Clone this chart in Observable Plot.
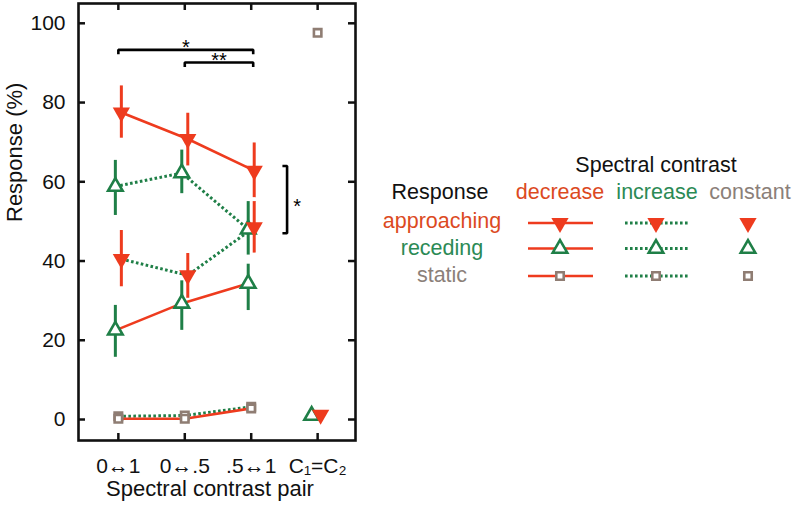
<!DOCTYPE html>
<html><head><meta charset="utf-8">
<script src="https://cdn.jsdelivr.net/npm/d3@7"></script>
<script src="https://cdn.jsdelivr.net/npm/@observablehq/plot@0.6"></script>
<style>
body{margin:0;background:#fff}
svg{font-family:"Liberation Sans",Arial,Helvetica,sans-serif}
</style>
</head><body><div id="chart"></div>
<script>
// ---------- data ----------
const pairLabels = ["0↔1", "0↔.5", ".5↔1", "C₁=C₂"];
const pairPos = [1, 2, 3];
const xTicks = [1, 2, 3, 4];
const yTicks = [0, 20, 40, 60, 80, 100];

// approaching response, spectral contrast decrease (solid)
const apprDecMean = [77.5, 70.8, 62.8];
const apprDecLo   = [71.0, 64.0, 56.0];
const apprDecHi   = [84.2, 77.3, 69.8];
// approaching response, spectral contrast increase (dotted)
const apprIncMean = [40.5, 36.4, 48.5];
const apprIncLo   = [33.5, 30.6, 42.0];
const apprIncHi   = [47.7, 41.9, 55.0];
// receding response, decrease (solid)
const recDecMean = [22.5, 29.3, 34.3];
const recDecLo   = [15.7, 22.5, 27.5];
const recDecHi   = [28.8, 35.0, 39.2];
// receding response, increase (dotted)
const recIncMean = [58.8, 62.2, 48.0];
const recIncLo   = [51.5, 57.0, 41.5];
const recIncHi   = [65.4, 68.0, 55.0];
// static response
const statDecMean = [0.2, 0.2, 2.8];
const statDecLo   = [0.2, 0.2, 1.8];
const statDecHi   = [0.2, 0.2, 3.8];
const statIncMean = [0.8, 1.0, 3.2];
const statIncLo   = [0.8, 1.0, 2.2];
const statIncHi   = [0.8, 1.0, 4.2];
// constant contrast (C1 = C2)
const constX = 4;
const constAppr = 1.2;
const constRec = 1.0;
const constStat = 97.6;

// significance annotations
const sigBrackets = [
  {x1: 1, x2: 3.03, y: 93.3, drop: 1.1, label: "*"},
  {x1: 2, x2: 3.03, y: 90.1, drop: 1.1, label: "**"}
];
const sigVertical = {x: 3.54, y1: 64, y2: 47, tick: 0.07, label: "*"};

// legend content
const legendTitle = "Spectral contrast";
const legendRowHeader = "Response";
const legendCols = ["decrease", "increase", "constant"];
const legendRows = ["approaching", "receding", "static"];

// ---------- styles ----------
const RED = "#ee3b1e", GREEN = "#1f7f47", GRAY = "#8f7d73";
const RED_T = "#dc4a1f", GREEN_T = "#2b8a55", GRAY_T = "#8b8079";
const DASH = "2.6,2.4";
const triDown = {
  draw(ctx, size) {
    const y = -Math.sqrt(size / (Math.sqrt(3) * 3));
    ctx.moveTo(0, -y * 2);
    ctx.lineTo(-Math.sqrt(3) * y, y);
    ctx.lineTo(Math.sqrt(3) * y, y);
    ctx.closePath();
  }
};
const markerStyle = {
  approaching: {symbol: triDown, r: 6.4, fill: RED, stroke: "none", strokeWidth: 0, color: RED, dx: 3},
  receding: {symbol: "triangle", r: 5.4, fill: "white", stroke: GREEN, strokeWidth: 2.6, color: GREEN, dx: -3},
  static: {symbol: "square", r: 4.2, fill: "white", stroke: GRAY, strokeWidth: 2.6, color: GRAY, dx: 0}
};
const lineStyle = {
  decrease: {stroke: RED, strokeWidth: 2.6, strokeDasharray: null, strokeLinecap: "butt"},
  increase: {stroke: GREEN, strokeWidth: 3, strokeDasharray: DASH, strokeLinecap: "butt"}
};

function rows(mean, lo, hi) {
  return pairPos.map((x, i) => ({x, mean: mean[i], lo: lo[i], hi: hi[i]}));
}
const series = [
  {resp: "static", con: "increase", data: rows(statIncMean, statIncLo, statIncHi)},
  {resp: "static", con: "decrease", data: rows(statDecMean, statDecLo, statDecHi)},
  {resp: "receding", con: "decrease", data: rows(recDecMean, recDecLo, recDecHi)},
  {resp: "receding", con: "increase", data: rows(recIncMean, recIncLo, recIncHi)},
  {resp: "approaching", con: "increase", data: rows(apprIncMean, apprIncLo, apprIncHi)},
  {resp: "approaching", con: "decrease", data: rows(apprDecMean, apprDecLo, apprDecHi)}
];

const lineMarks = series.map(s => Plot.line(s.data, {
  x: "x", y: "mean", dx: markerStyle[s.resp].dx, ...lineStyle[s.con]
}));
const errMarks = series.map(s => Plot.ruleX(s.data, {
  x: "x", y1: "lo", y2: "hi", dx: markerStyle[s.resp].dx,
  stroke: markerStyle[s.resp].color, strokeWidth: 3
}));
const dotOpts = m => ({symbol: m.symbol, r: m.r, fill: m.fill, stroke: m.stroke, strokeWidth: m.strokeWidth});
const dotMarks = series.map(s => {
  const m = markerStyle[s.resp];
  return Plot.dot(s.data, {x: "x", y: "mean", dx: m.dx, ...dotOpts(m)});
});
const constMarks = [
  Plot.dot([{x: constX, y: constRec}], {x: "x", y: "y", dx: -6, ...dotOpts(markerStyle.receding)}),
  Plot.dot([{x: constX, y: constAppr}], {x: "x", y: "y", dx: 3, ...dotOpts(markerStyle.approaching)}),
  Plot.dot([{x: constX, y: constStat}], {x: "x", y: "y", ...dotOpts(markerStyle.static)})
];

const bracketLines = sigBrackets.map(b => Plot.line(
  [{x: b.x1, y: b.y - b.drop}, {x: b.x1, y: b.y}, {x: b.x2, y: b.y}, {x: b.x2, y: b.y - b.drop}],
  {x: "x", y: "y", stroke: "black", strokeWidth: 2.6, strokeLinecap: "butt", strokeLinejoin: "miter"}));
const bracketText = Plot.text(sigBrackets, {
  x: b => (b.x1 + b.x2) / 2, y: "y", text: "label", dy: 4, fontSize: 20, lineAnchor: "bottom", fill: "black"
});
const vLine = Plot.line(
  [{x: sigVertical.x - sigVertical.tick, y: sigVertical.y1}, {x: sigVertical.x, y: sigVertical.y1},
   {x: sigVertical.x, y: sigVertical.y2}, {x: sigVertical.x - sigVertical.tick, y: sigVertical.y2}],
  {x: "x", y: "y", stroke: "black", strokeWidth: 2.6, strokeLinecap: "butt", strokeLinejoin: "miter"});
const vText = Plot.text([sigVertical], {
  x: d => d.x + 0.15, y: d => (d.y1 + d.y2) / 2, text: "label", fontSize: 20, dy: 7, fill: "black"
});

// layout
const W = 796, H = 510, ML = 78, MR = 441, MT = 3, MB = 70;
const FW = W - ML - MR, FH = H - MT - MB, TL = 7;
// inward frame ticks (short rules, trimmed with pixel insets)
const TICK = {stroke: "#111", strokeWidth: 2.5};
const tickMarks = [
  Plot.ruleY(yTicks, {y: d => d, insetRight: FW - TL, ...TICK}),
  Plot.ruleY(yTicks, {y: d => d, insetLeft: FW - TL, ...TICK}),
  Plot.ruleX(xTicks, {x: d => d, insetBottom: FH - TL, ...TICK}),
  Plot.ruleX(xTicks, {x: d => d, insetTop: FH - TL, ...TICK})
];

const FONT = 21;
const chart = Plot.plot({
  width: W, height: H,
  marginLeft: ML, marginRight: MR, marginTop: MT, marginBottom: MB,
  style: {fontFamily: "Liberation Sans, Arial, sans-serif", fontSize: FONT + "px", background: "white"},
  x: {domain: [0.4, 4.57]},
  y: {domain: [-5.3, 105]},
  marks: [
    Plot.axisX({ticks: xTicks, tickFormat: d => pairLabels[d - 1], tickSize: 0, tickPadding: 18,
      fontSize: FONT, label: null, fill: "#111"}),
    Plot.axisY({ticks: yTicks, tickSize: 0, tickPadding: 13, fontSize: FONT, label: null, fill: "#111"}),
    Plot.text(["Spectral contrast pair"], {frameAnchor: "bottom", dy: 55, dx: -7, fontSize: 22, fill: "#111"}),
    Plot.text(["Response (%)"], {frameAnchor: "left", dx: -64, rotate: -90, fontSize: 22, fill: "#111"}),
    ...lineMarks,
    ...errMarks,
    ...dotMarks,
    ...constMarks,
    ...bracketLines, bracketText, vLine, vText,
    ...tickMarks,
    Plot.frame({stroke: "#111", strokeWidth: 2.6})
  ]
});
document.getElementById("chart").appendChild(chart);

// ---------- legend (appended into the same svg) ----------
const LFONT = 21.5;
const svg = d3.select(chart);
const lg = svg.append("g").attr("font-family", "Liberation Sans, Arial, sans-serif").attr("font-size", LFONT);
lg.append("text").attr("x", 656).attr("y", 172).attr("text-anchor", "middle").attr("fill", "#111").text(legendTitle);
lg.append("text").attr("x", 440).attr("y", 199).attr("text-anchor", "middle").attr("fill", "#111").text(legendRowHeader);
const colX = [560, 657, 750];
const colColor = [RED_T, GREEN_T, GRAY_T];
legendCols.forEach((c, i) => lg.append("text").attr("x", colX[i]).attr("y", 199)
  .attr("text-anchor", "middle").attr("fill", colColor[i]).text(c));
const rowTextY = [228, 255, 282];
const rowMarkY = [223, 248.5, 276];
const rowColor = [RED_T, GREEN_T, GRAY_T];
const rowResp = ["approaching", "receding", "static"];
legendRows.forEach((r, i) => {
  lg.append("text").attr("x", 442).attr("y", rowTextY[i]).attr("text-anchor", "middle")
    .attr("fill", rowColor[i]).text(r);
  const y = rowMarkY[i];
  lg.append("line").attr("x1", 528).attr("x2", 593).attr("y1", y).attr("y2", y)
    .attr("stroke", RED).attr("stroke-width", 2.6);
  lg.append("line").attr("x1", 625).attr("x2", 688).attr("y1", y).attr("y2", y)
    .attr("stroke", GREEN).attr("stroke-width", 3).attr("stroke-dasharray", DASH);
  const m = markerStyle[rowResp[i]];
  const sym = typeof m.symbol === "string"
    ? (m.symbol === "triangle" ? d3.symbolTriangle : d3.symbolSquare) : m.symbol;
  const path = d3.symbol(sym, Math.PI * m.r * m.r)();
  [560, 656, 748].forEach(x => lg.append("path").attr("d", path)
    .attr("transform", `translate(${x},${y})`).attr("fill", m.fill)
    .attr("stroke", m.stroke).attr("stroke-width", m.strokeWidth));
});
</script>
</body></html>
